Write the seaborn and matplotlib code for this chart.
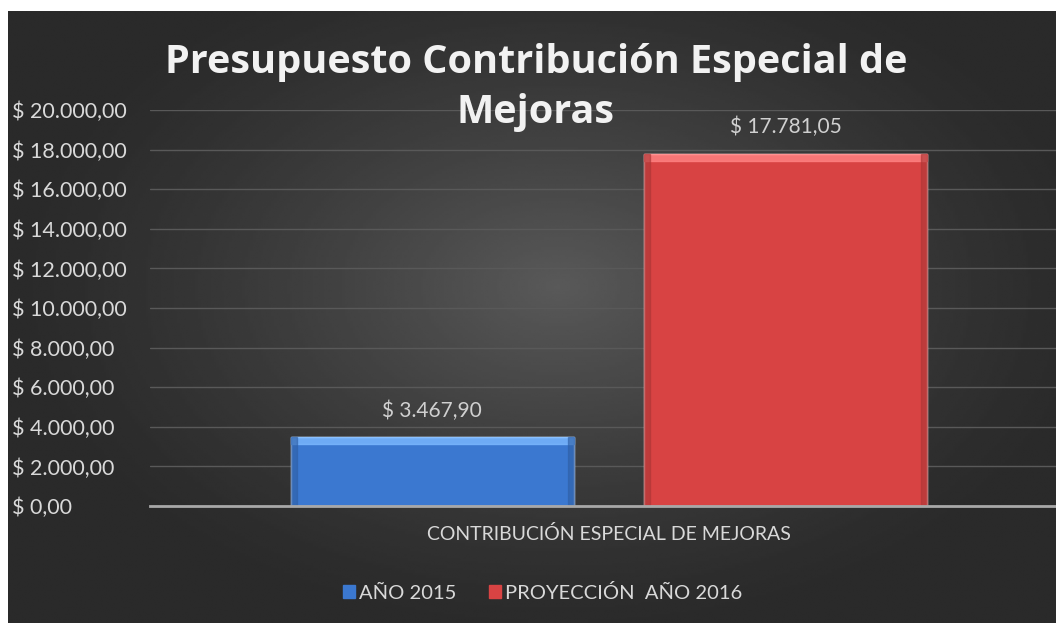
import numpy as np
import pandas as pd
import seaborn as sns
import matplotlib.pyplot as plt
from matplotlib.patches import Rectangle

categoria = ['CONTRIBUCIÓN ESPECIAL DE MEJORAS']
series = ['AÑO 2015', 'PROYECCIÓN  AÑO 2016']
valores = [3467.90, 17781.05]
colores = ['#3b78d0', '#d84343']
y_ticks = [0, 2000, 4000, 6000, 8000, 10000, 12000, 14000, 16000, 18000, 20000]
titulo = ['Presupuesto Contribución Especial de', 'Mejoras']

def pesos(v):
    s = f'{v:,.2f}'.replace(',', 'X').replace('.', ',').replace('X', '.')
    return '$ ' + s

df = pd.DataFrame({'cat': categoria * len(series), 'serie': series, 'valor': valores})

sns.set_style('dark')
plt.rcParams['font.family'] = ['Lato', 'DejaVu Sans']

fig = plt.figure(figsize=(10.56, 6.23), dpi=100)
fig.patch.set_facecolor('white')

# fondo con degradado radial
bg = fig.add_axes([8 / 1056, 0, 1 - 8 / 1056, 612 / 623])
xx, yy = np.meshgrid(np.linspace(-1, 1, 400), np.linspace(-1, 1, 250))
r = np.clip(np.sqrt(((xx - 0.05) / 1.05) ** 2 + ((yy + 0.1) / 1.15) ** 2), 0, 1)
gris = 0.165 + (0.35 - 0.165) * (1 - r) ** 1.3
bg.imshow(gris, cmap='gray', vmin=0, vmax=1, aspect='auto',
          extent=[0, 1, 0, 1], interpolation='bilinear')
bg.set_axis_off()

ax = fig.add_axes([150 / 1056, 117 / 623, 918 / 1056, 396 / 623])
ax.set_facecolor('none')
g = sns.barplot(data=df, x='cat', y='valor', hue='serie', palette=colores,
                width=0.77, gap=0.2, saturation=1, ax=ax, legend=True)

ax.set_ylim(0, 20000)
ax.set_xlim(-0.5, 0.5)
ax.set_yticks(y_ticks)
ax.set_yticklabels([pesos(v) for v in y_ticks])
for lab in ax.get_yticklabels():
    lab.set_horizontalalignment('left')
ax.tick_params(axis='y', pad=99, labelsize=15.5, labelcolor='#d9d9d9', length=0)
ax.tick_params(axis='x', pad=14, labelsize=14, labelcolor='#d9d9d9', length=0)
ax.grid(axis='y', color='#595959', linewidth=1)
ax.grid(axis='x', visible=False)
ax.set_axisbelow(True)
for s in ['left', 'right', 'top']:
    ax.spines[s].set_visible(False)
ax.spines['bottom'].set_color('#a8a8a8')
ax.spines['bottom'].set_linewidth(2)
ax.set_xlabel('')
ax.set_ylabel('')

# efecto bisel en las barras
for p in ax.patches:
    if p.get_height() <= 0:
        continue
    x0, w, h = p.get_x(), p.get_width(), p.get_height()
    c = p.get_facecolor()
    light = tuple(min(1, ci + 0.25) for ci in c[:3])
    dark = tuple(ci * 0.8 for ci in c[:3])
    ax.add_patch(Rectangle((x0, h - 350), w, 350, color=light, alpha=0.8, zorder=p.get_zorder() + 0.1))
    ax.add_patch(Rectangle((x0, 0), w * 0.02, h, color=dark, alpha=0.6, zorder=p.get_zorder() + 0.1))
    ax.add_patch(Rectangle((x0 + w * 0.98, 0), w * 0.02, h, color=dark, alpha=0.6, zorder=p.get_zorder() + 0.1))

for cont in ax.containers:
    ax.bar_label(cont, labels=[pesos(v) for v in cont.datavalues], padding=12,
                 color='#d0d0d0', fontsize=15)

leg = ax.legend(loc='upper center', bbox_to_anchor=(0.428, -0.15), ncol=2, frameon=False,
                fontsize=14.5, labelcolor='#d9d9d9', handlelength=0.6, handleheight=0.6,
                handletextpad=0.2, columnspacing=1.6)
for h, c in zip(leg.legend_handles, colores):
    h.set_facecolor(c)
    h.set_edgecolor(c)

fig.text(536 / 1056, 1 - 62 / 623, titulo[0], ha='center', va='center', fontsize=28.5,
         fontweight='bold', color='#f2f2f2', family=['Open Sans', 'DejaVu Sans'])
fig.text(536 / 1056, 1 - 112 / 623, titulo[1], ha='center', va='center', fontsize=28.5,
         fontweight='bold', color='#f2f2f2', family=['Open Sans', 'DejaVu Sans'])

fig.savefig('out.png', dpi=100)
